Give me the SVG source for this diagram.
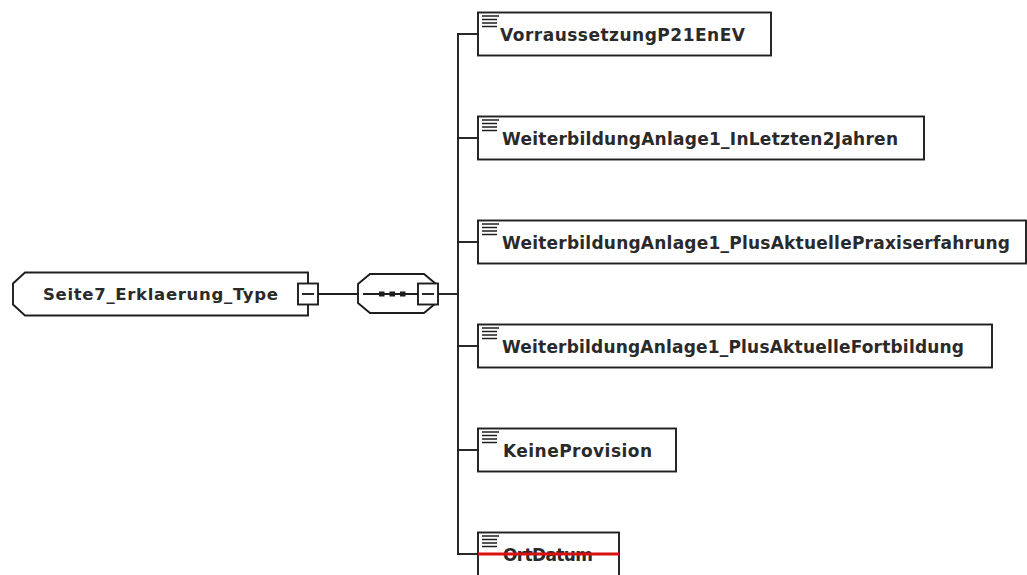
<svg xmlns="http://www.w3.org/2000/svg" width="1027" height="575" viewBox="0 0 1027 575">
<style>
.ln{fill:none;stroke:#1e1e1e;stroke-width:1.9}
.box{fill:#ffffff;stroke:#1e1e1e;stroke-width:1.9}
.ico{stroke:#1e1e1e;stroke-width:1.5}
.t{font-family:"DejaVu Sans",Verdana,sans-serif;font-weight:bold;font-size:17px;fill:#2a2a2a}
.r{font-size:16.5px}
</style>
<defs>
<g id="icon">
<line class="ico" x1="482" y1="3.5" x2="499" y2="3.5"/>
<line class="ico" x1="482" y1="7" x2="497" y2="7"/>
<line class="ico" x1="482" y1="10.5" x2="497" y2="10.5"/>
<line class="ico" x1="482" y1="14" x2="497" y2="14"/>
</g>
<g id="minus">
<rect class="box" x="0" y="0" width="20" height="21"/>
<line class="ln" x1="4" y1="10.5" x2="16" y2="10.5"/>
</g>
</defs>
<rect width="1027" height="575" fill="#ffffff"/>
<g id="connectors">
<line class="ln" x1="318" y1="294" x2="358" y2="294"/>
<line class="ln" x1="438" y1="294" x2="458" y2="294"/>
<line class="ln" x1="458" y1="33" x2="458" y2="555"/>
<line class="ln" x1="458" y1="34" x2="478" y2="34"/>
<line class="ln" x1="458" y1="138" x2="478" y2="138"/>
<line class="ln" x1="458" y1="242" x2="478" y2="242"/>
<line class="ln" x1="458" y1="346" x2="478" y2="346"/>
<line class="ln" x1="458" y1="450" x2="478" y2="450"/>
<line class="ln" x1="458" y1="554" x2="478" y2="554"/>
</g>
<g id="root">
<path class="box" d="M25,272.5 H308 V315.5 H25 L13,304.5 V283.5 Z"/>
<text class="t r" x="43" y="300" textLength="235">Seite7_Erklaerung_Type</text>
<use href="#minus" x="298" y="283.5"/>
</g>
<g id="sequence">
<path class="box" d="M370,274 H424 L436,284 V303 L424,313 H370 L358,303 V284 Z"/>
<line class="ln" x1="363" y1="294" x2="420" y2="294"/>
<rect x="379" y="291.5" width="5.5" height="5" fill="#1e1e1e"/>
<rect x="389.5" y="291.5" width="5.5" height="5" fill="#1e1e1e"/>
<rect x="400" y="291.5" width="5.5" height="5" fill="#1e1e1e"/>
<use href="#minus" x="418" y="283.5"/>
</g>
<g id="n1">
<rect class="box" x="478" y="12.5" width="293" height="43"/>
<use href="#icon" y="12.5"/>
<text class="t" x="500" y="40.5" textLength="245">VorraussetzungP21EnEV</text>
</g>
<g id="n2">
<rect class="box" x="478" y="116.5" width="446" height="43"/>
<use href="#icon" y="116.5"/>
<text class="t" x="502" y="144.5" textLength="396">WeiterbildungAnlage1_InLetzten2Jahren</text>
</g>
<g id="n3">
<rect class="box" x="478" y="220.5" width="548" height="43"/>
<use href="#icon" y="220.5"/>
<text class="t" x="502" y="249" textLength="508">WeiterbildungAnlage1_PlusAktuellePraxiserfahrung</text>
</g>
<g id="n4">
<rect class="box" x="478" y="324.5" width="514" height="43"/>
<use href="#icon" y="324.5"/>
<text class="t" x="502" y="353" textLength="462">WeiterbildungAnlage1_PlusAktuelleFortbildung</text>
</g>
<g id="n5">
<rect class="box" x="478" y="428.5" width="198" height="43"/>
<use href="#icon" y="428.5"/>
<text class="t" x="503" y="457" textLength="149">KeineProvision</text>
</g>
<g id="n6">
<rect class="box" x="478" y="532.5" width="141" height="50"/>
<use href="#icon" y="532.5"/>
<text class="t" x="503" y="561" textLength="90">OrtDatum</text>
<line x1="478" y1="554" x2="619" y2="554" stroke="#d81010" stroke-width="3"/>
</g>
</svg>
